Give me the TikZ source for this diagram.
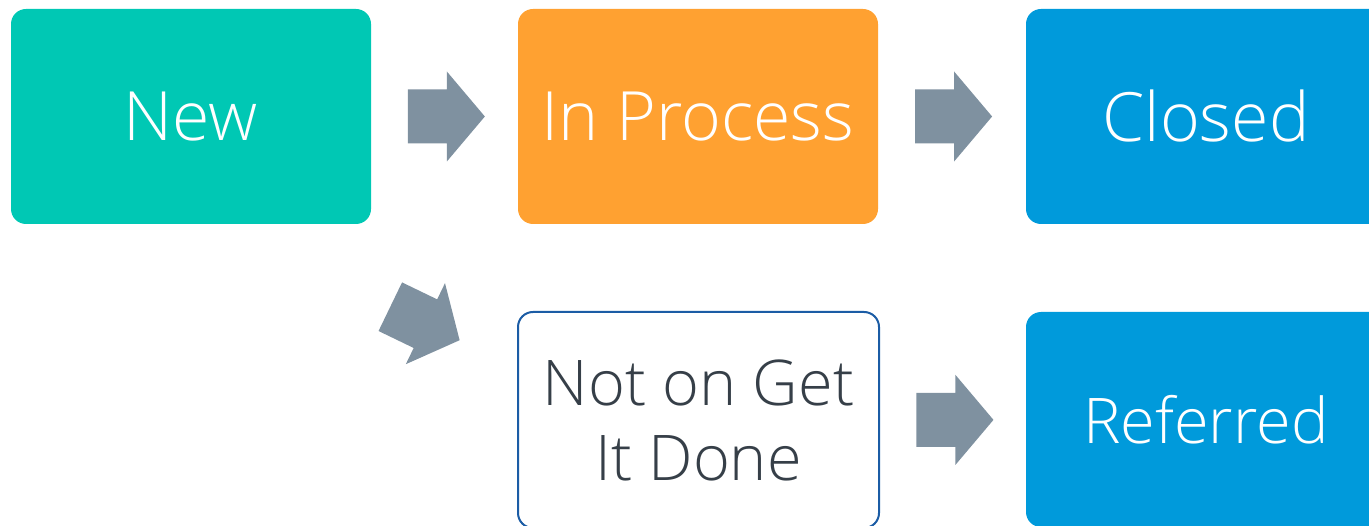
\documentclass[tikz,border=0pt]{standalone}
\usepackage{fontspec}
\setmainfont{Open Sans}[UprightFont=* Light]
\usetikzlibrary{calc}
\definecolor{cteal}{HTML}{00C8B4}
\definecolor{corange}{HTML}{FFA131}
\definecolor{cblue}{HTML}{009ADB}
\definecolor{cgray}{HTML}{7F91A0}
\definecolor{cborder}{HTML}{1B5CA5}
\definecolor{ctext}{HTML}{363F48}
\tikzset{
  box/.style={rectangle, rounded corners=15pt, minimum width=360pt, minimum height=215pt, inner sep=0pt, text=white, align=center},
  bigtext/.style={font=\fontsize{68}{75}\selectfont},
  smalltext/.style={font=\fontsize{63}{75}\selectfont},
  blockarrow/.style={fill=cgray, draw=none},
}
\begin{document}
\begin{tikzpicture}[x=1pt,y=-1pt]
\useasboundingbox (0,0) rectangle (1369,526);
\clip (0,0) rectangle (1369,526);
\node[box, bigtext, fill=cteal] (new) at (191,116.5) {New};
\node[box, bigtext, fill=corange] (inproc) at (698,116.5) {In Process};
\node[box, bigtext, fill=cblue] (closed) at (1206,116.5) {Closed};
\node[box, smalltext, fill=white, draw=cborder, line width=2pt, text=ctext, minimum width=361pt, minimum height=216pt] (notgid) at (698.5,420) {Not on Get\\It Done};
\node[box, smalltext, fill=cblue] (referred) at (1206,419.5) {Referred};
\coordinate (t1) at ($(new.east)!0.25!(inproc.west)$);
\coordinate (t2) at ($(inproc.east)!0.25!(closed.west)$);
\coordinate (t3) at ($(notgid.east)!0.25!(referred.west)$);
\coordinate (t4) at (390.3,306.7);
\foreach \t/\r in {t1/0, t2/0, t3/0, t4/-25.8}{
  \fill[blockarrow, shift={(\t)}, rotate=\r] (0,-27) -- (39,-27) -- (39,-45) -- (77,0) -- (39,45) -- (39,27) -- (0,27) -- cycle;
}
\end{tikzpicture}
\end{document}
